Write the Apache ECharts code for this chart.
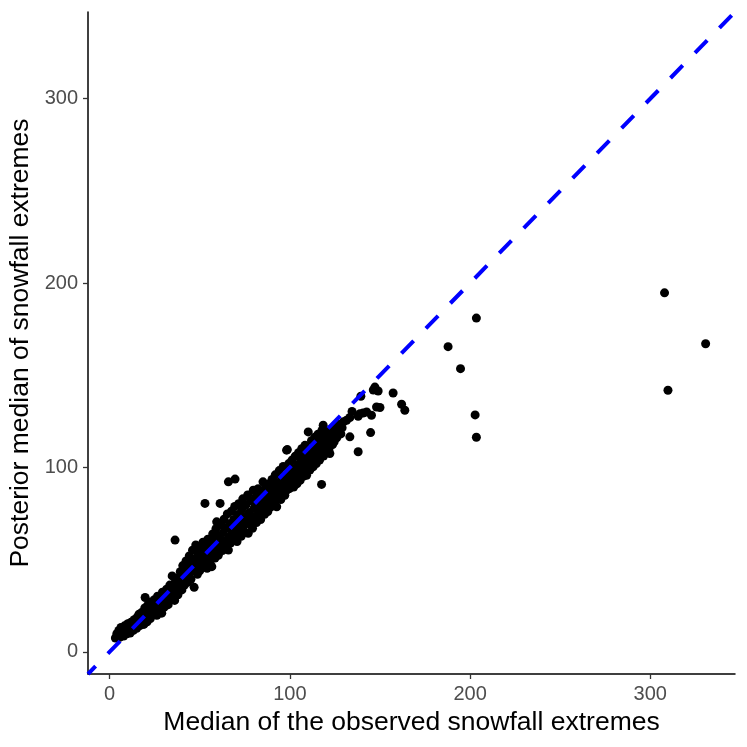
<!DOCTYPE html>
<html>
<head>
<meta charset="utf-8">
<script src="https://cdn.jsdelivr.net/npm/echarts@6/dist/echarts.min.js"></script>
<style>html,body{margin:0;padding:0;background:#fff;}#chart{width:747px;height:747px;}</style>
</head>
<body>
<div id="chart"></div>
<script>
// ---- data ----
const axisMin = -12;
const axisMax = 347;
const tickValues = [0, 100, 200, 300];
const xTitle = 'Median of the observed snowfall extremes';
const yTitle = 'Posterior median of snowfall extremes';

const pointsLow = [
[3.2,7.5],[4.0,9.8],[4.5,8.2],[5.1,11.6],[5.6,7.9],[6.0,10.4],[6.3,13.2],[6.9,9.1],[7.4,12.0],[7.8,8.6],
[8.3,14.1],[8.7,10.7],[9.2,12.9],[9.6,9.8],[10.1,15.3],[10.5,11.4],[10.9,13.6],[11.4,10.2],[11.8,16.0],[12.3,12.5],
[12.7,14.8],[13.2,11.7],[13.6,17.4],[14.1,13.9],[14.5,16.2],[15.0,12.8],[15.4,18.9],[15.9,15.1],[16.3,20.4],[16.8,14.2],
[17.2,17.7],[17.7,21.3],[18.1,16.4],[18.6,19.6],[19.0,14.9],[19.5,23.8],[19.7,29.5],[19.9,18.0],[20.4,21.7],
[20.8,16.3],[21.2,25.4],[21.7,19.6],[22.1,22.8],[22.6,18.1],[23.0,27.0],[23.5,21.4],[23.9,24.6],[24.4,20.2],[24.8,28.3],
[25.3,23.1],[25.7,26.4],[26.2,19.8],[26.6,30.2],[27.1,24.7],[27.5,22.0],[28.0,28.9],[28.4,25.8],[28.9,21.0],[29.3,32.4],
[29.8,27.3],[30.2,24.1],[30.7,30.5],[31.1,26.2],[31.6,34.0],[32.0,29.1],[32.5,25.6],[32.9,31.8],[33.4,36.2],[33.8,28.4],
[34.3,33.0],[34.7,41.2],[35.2,30.1],[35.6,35.4],[36.1,27.9],[36.3,60.6],[36.5,38.1],[37.0,33.2],[37.4,36.9],[37.9,31.0],
[38.3,40.3],[38.8,35.1],[39.2,43.5],[39.7,37.8],[40.1,33.6]
];

const pointsMid = [
[40.6,46.8],[41.0,39.5],[41.5,36.2],[41.9,44.1],[42.4,49.3],[42.8,41.0],[43.3,37.7],[43.7,46.5],[44.2,52.0],[44.6,43.2],
[45.1,39.4],[45.5,48.7],[46.0,55.1],[46.4,44.6],[46.9,35.0],[47.3,50.3],[47.8,58.0],[48.2,46.3],[48.7,42.1],[49.1,53.4],
[49.6,48.9],[50.0,44.0],[50.5,56.2],[50.9,51.1],[51.4,46.7],[51.8,59.5],[52.3,53.0],[52.7,48.2],[52.9,80.5],[53.2,57.4],
[53.6,50.6],[54.1,45.3],[54.5,61.1],[55.0,55.0],[55.4,51.8],[55.9,47.6],[56.3,58.8],[56.7,46.2],[57.2,63.9],[57.6,54.3],
[58.1,60.2],[58.5,50.9],[59.0,66.8],[59.4,70.5],[59.9,57.1],
[60.3,52.4],[60.8,63.0],[61.3,80.5],[61.7,58.5],[62.2,68.6],[62.6,55.0],[63.1,64.7],[63.5,71.9],[64.0,60.3],[64.4,56.4],
[64.9,67.2],[65.3,74.8],[65.9,92.2],[65.9,55.2],[66.2,62.1],[66.7,69.5],[67.1,59.0],[67.6,76.3],[68.0,65.4],[68.5,61.2],
[68.9,71.8],[69.4,78.9],[69.6,93.7],[69.8,63.6],[70.3,68.1],[70.7,59.8],[71.2,74.5],[71.6,80.3],[72.1,66.2],[72.5,70.9],
[73.0,62.7],[73.4,77.6],[73.9,83.0],[74.3,68.7],[74.8,73.4],[75.2,64.9],[75.7,79.8],[76.1,71.0],[76.6,85.1],[76.9,64.3],
[77.5,75.6],[77.9,69.2],[78.4,82.0],[78.8,72.8],[79.3,67.0],[79.7,87.7],[80.2,77.9],[80.6,73.4],[81.1,84.0],[81.5,70.1],
[82.0,79.6],[82.4,88.5],[82.9,75.3],[83.3,81.7],[83.8,71.8],[84.2,86.2],[84.7,78.0],[85.1,92.2],[85.6,82.9],[86.0,74.6],
[86.5,88.6],[86.9,79.4],[87.4,84.8],[87.8,76.1],[88.0,77.8],[88.3,91.0],[88.7,82.4],[89.2,87.3],[89.6,78.7]
];

const pointsHigh = [
[90.1,93.5],[90.5,84.2],[91.0,89.0],[91.4,80.9],[91.9,96.0],[92.3,86.7],[92.7,78.7],[93.2,91.4],[93.6,84.0],[94.1,98.3],
[94.5,88.1],[95.0,82.6],[95.4,93.8],[95.9,86.4],[96.3,100.5],[96.8,90.3],[97.2,84.9],[97.7,95.6],[98.2,109.4],[98.2,87.7],
[98.6,109.7],[98.9,92.2],[99.4,102.1],[99.8,88.5],[100.3,97.0],[100.7,91.6],[101.2,104.0],[101.6,94.1],[102.1,89.4],[102.5,99.4],
[103.0,106.1],[103.4,95.8],[103.9,91.1],[104.3,101.2],[104.8,108.0],[105.2,97.5],[105.7,93.0],[106.1,103.6],[106.6,110.2],[107.0,99.3],
[107.5,95.2],[107.9,105.4],[108.4,112.0],[108.8,101.4],[109.3,95.8],[109.3,107.4],[110.2,119.3],[110.6,103.2],[111.1,98.6],[111.5,109.1],
[112.0,114.5],[112.4,104.8],[112.9,100.3],[113.3,111.0],[113.8,116.4],[114.2,106.5],[114.7,102.1],[115.1,112.6],[115.6,118.0],[116.0,108.3],
[116.5,104.0],[116.9,114.2],[117.6,90.8],[117.8,120.1],[118.3,110.0],[118.5,122.9],[118.7,106.2],[119.2,115.8],[119.6,111.7],[120.1,117.9],
[120.5,108.4],[121.0,113.3],[121.4,119.6],[121.9,110.8],[122.2,107.6],[122.8,115.0],[123.3,121.0],[123.7,112.4],[124.2,117.2],[124.6,113.9],
[125.1,119.0],[125.5,122.2],[126.0,116.1],[126.8,119.8],[127.5,123.4],[128.3,118.2],[129.0,121.5],[129.8,124.8]
];

const pointsTail = [
[131.5,125.6],[133.3,127.1],[133.3,116.6],[134.5,130.4],[137.9,127.8],[137.9,108.5],[138.9,129.2],[139.4,138.6],[140.6,129.5],[142.6,130.1],
[144.8,118.9],[145.3,128.3],[146.3,142.0],[147.2,143.6],[148.1,132.8],[149.0,141.5],[150.0,132.5],[157.3,140.4],[162.0,134.3],[163.8,131.0]
];

const pointsOutlier = [
[187.8,165.5],[194.7,153.6],[203.5,181.0],[202.8,128.5],[203.5,116.4],[307.9,194.7],[309.8,141.9],[330.7,167.1]
];

const allPoints = pointsLow.concat(pointsMid, pointsHigh, pointsTail, pointsOutlier);
const identityLine = [[axisMin, axisMin], [axisMax, axisMax]];

const FONT = '"Liberation Sans", Arial, Helvetica, sans-serif';

const chart = echarts.init(document.getElementById('chart'), null, {renderer: 'canvas'});
function axisCommon(name, nameGap, labelMargin) {
  return {
    type: 'value',
    min: axisMin,
    max: axisMax,
    name: name,
    nameLocation: 'middle',
    nameGap: nameGap,
    nameTextStyle: {color: '#000', fontSize: 26.5, fontFamily: FONT},
    axisLine: {show: true, onZero: false, lineStyle: {color: '#000', width: 1.5}},
    axisTick: {show: true, customValues: tickValues, length: 5, lineStyle: {color: '#333', width: 1.3}},
    axisLabel: {show: true, customValues: tickValues, color: '#4D4D4D', fontSize: 20, fontFamily: FONT, margin: labelMargin},
    splitLine: {show: false}
  };
}
chart.setOption({
  animation: false,
  backgroundColor: '#fff',
  grid: {left: 88, right: 12, top: 12, bottom: 73, containLabel: false, outerBoundsMode: 'none'},
  xAxis: axisCommon(xTitle, 35, 10),
  yAxis: axisCommon(yTitle, 52, 10),
  series: [
    {
      type: 'scatter',
      data: allPoints,
      symbol: 'circle',
      symbolSize: 9,
      itemStyle: {color: '#000', opacity: 1},
      z: 2
    },
    {
      type: 'line',
      data: identityLine,
      symbol: 'none',
      clip: true,
      lineStyle: {color: '#0000FF', width: 4, type: [17.5, 17.5], dashOffset: 6.6, cap: 'butt'},
      z: 3
    }
  ]
});
</script>
</body>
</html>
